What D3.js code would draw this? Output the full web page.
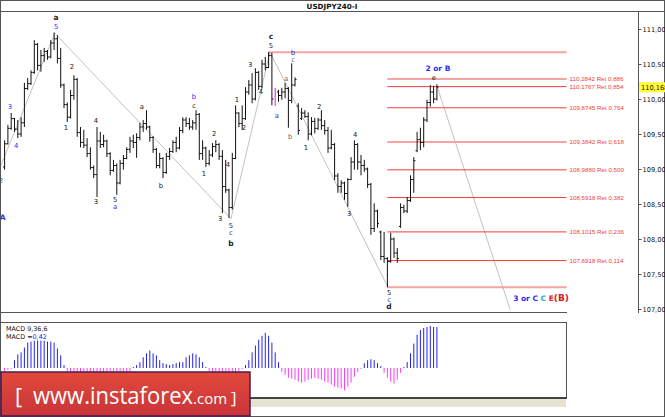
<!DOCTYPE html>
<html><head><meta charset="utf-8">
<script src="https://cdn.jsdelivr.net/npm/d3@7"></script>
<style>body{margin:0;background:#fff;}svg{display:block;}</style>
</head><body>
<svg id="c" width="665" height="417"></svg>
<script>
// ---------- DATA (USDJPY 4H, 14 Aug - 12 Sep) ----------
const opens  = [109.03,109.36,109.58,109.72,109.57,109.50,109.66,110.15,110.22,110.38,110.78,110.48,110.62,110.68,110.60,110.80,110.86,110.58,110.20,109.92,109.74,110.05,110.28,109.52,109.38,109.34,109.22,109.02,108.92,109.40,109.35,109.40,109.22,108.98,109.05,108.80,109.08,109.15,109.28,109.40,109.38,109.45,109.60,109.65,109.60,109.45,109.28,109.05,109.15,108.95,109.18,109.25,109.38,109.30,109.55,109.70,109.65,109.60,109.66,109.78,109.22,109.30,109.08,109.20,109.32,109.35,109.18,108.75,108.70,108.45,109.15,109.80,109.65,109.72,110.10,110.20,110.00,110.38,110.18,110.50,110.45,110.62,110.00,110.10,110.05,110.10,110.15,109.98,110.20,109.90,109.72,109.80,109.75,109.50,109.68,109.58,109.70,109.62,109.55,109.30,109.35,108.90,108.75,108.80,108.65,108.85,109.10,109.35,109.10,109.05,109.00,108.78,108.15,108.40,108.10,107.75,107.72,107.68,108.00,107.80,108.18,108.45,108.40,108.55,108.85,109.26,109.42,109.38,109.70,109.95,110.10,110.00];
const highs  = [109.41,109.63,109.80,109.73,109.70,109.74,110.23,110.30,110.41,110.84,110.80,110.70,110.73,110.70,110.84,110.95,110.91,110.73,110.22,109.95,110.13,110.34,110.30,109.60,109.56,109.44,109.31,109.05,109.60,109.53,109.49,109.42,109.24,109.13,109.08,109.13,109.20,109.31,109.46,109.49,109.51,109.66,109.70,109.84,109.62,109.47,109.30,109.23,109.17,109.23,109.30,109.41,109.46,109.60,109.74,109.74,109.73,109.70,109.84,109.80,109.41,109.32,109.27,109.37,109.41,109.37,109.27,109.13,108.72,109.23,109.91,109.81,109.91,110.17,110.27,110.37,110.44,110.40,110.56,110.60,110.67,110.66,110.16,110.13,110.16,110.23,110.17,110.51,110.31,109.94,109.87,109.84,109.81,109.74,109.73,109.73,109.84,109.70,109.60,109.56,109.37,108.94,108.84,108.82,108.87,109.17,109.41,109.37,109.20,109.13,109.02,108.80,108.51,108.42,108.12,108.10,107.74,108.09,108.02,107.87,108.51,108.49,108.60,108.91,109.17,109.53,109.59,109.74,109.99,110.20,110.19,110.21];
const lows   = [108.99,109.35,109.56,109.53,109.44,109.46,109.60,110.13,110.20,110.36,110.41,110.39,110.53,110.56,110.58,110.70,110.51,110.16,109.87,109.67,109.72,109.99,109.46,109.31,109.30,109.17,108.99,108.87,108.60,109.30,109.31,109.17,108.91,108.96,108.63,108.78,108.99,109.14,109.23,109.30,109.16,109.41,109.53,109.56,109.39,109.23,109.01,109.01,108.87,108.93,109.13,109.23,109.24,109.28,109.51,109.60,109.56,109.56,109.56,109.13,109.13,109.03,109.05,109.17,109.24,109.13,108.37,108.66,108.30,108.42,109.14,109.60,109.56,109.70,110.06,109.94,109.98,110.13,110.15,110.41,110.44,109.91,109.90,109.96,109.99,110.01,109.59,109.94,110.18,109.49,109.70,109.73,109.41,109.48,109.51,109.56,109.56,109.49,109.23,109.28,108.84,108.66,108.66,108.56,108.46,108.84,108.99,108.99,108.91,108.96,108.73,108.06,108.10,108.16,107.70,107.66,107.31,107.66,107.73,107.66,108.16,108.37,108.37,108.53,108.66,109.24,109.27,109.31,109.67,109.89,109.94,109.98];
const closes = [109.36,109.58,109.72,109.57,109.50,109.66,110.15,110.22,110.38,110.78,110.48,110.62,110.68,110.60,110.80,110.86,110.58,110.20,109.92,109.74,110.05,110.28,109.52,109.38,109.34,109.22,109.02,108.92,109.40,109.35,109.40,109.22,108.98,109.05,108.80,109.08,109.15,109.28,109.40,109.38,109.45,109.60,109.65,109.60,109.45,109.28,109.05,109.15,108.95,109.18,109.25,109.38,109.30,109.55,109.70,109.65,109.60,109.66,109.78,109.22,109.30,109.08,109.20,109.32,109.35,109.18,108.75,108.70,108.45,109.15,109.80,109.65,109.72,110.10,110.20,110.00,110.38,110.18,110.50,110.45,110.62,110.00,110.10,110.05,110.10,110.15,109.98,110.20,110.28,109.55,109.80,109.75,109.50,109.68,109.58,109.70,109.62,109.55,109.30,109.35,108.90,108.75,108.80,108.65,108.85,109.10,109.35,109.10,109.05,109.00,108.78,108.15,108.40,108.22,107.75,107.72,107.68,108.00,107.80,107.72,108.45,108.40,108.55,108.85,109.12,109.42,109.38,109.70,109.95,110.10,110.00,110.168];
const highlightBar = 82;   // magenta bar
const macdHist = [-0.03,-0.02,-0.01,0.08,0.14,0.16,0.21,0.26,0.27,0.28,0.28,0.28,0.28,0.27,0.27,0.26,0.20,0.13,0.03,
  -0.03,-0.05,-0.06,-0.08,-0.10,-0.12,-0.14,-0.16,-0.18,-0.17,-0.16,-0.15,-0.15,-0.16,-0.17,-0.18,-0.15,-0.12,-0.08,-0.04,
  0.01,0.03,0.06,0.11,0.15,0.18,0.15,0.13,0.08,0.05,0.04,0.03,0.04,0.05,0.06,0.06,0.11,0.13,0.15,0.14,0.11,0.06,0.01,
  -0.03,-0.04,-0.04,-0.05,-0.08,-0.09,-0.12,-0.10,-0.06,-0.03,-0.01,
  0.03,0.08,0.16,0.23,0.29,0.33,0.36,0.33,0.26,0.16,0.06,
  -0.04,-0.07,-0.10,-0.11,-0.12,-0.14,-0.15,-0.14,-0.12,-0.11,-0.10,-0.11,-0.12,-0.14,-0.15,-0.17,-0.19,-0.20,-0.21,-0.23,-0.19,-0.15,-0.09,-0.04,
  -0.01,0.05,0.08,0.09,0.08,0.05,0.02,
  -0.05,-0.10,-0.14,-0.16,-0.12,-0.05,
  0.01,0.06,0.15,0.25,0.34,0.39,0.41,0.42,0.43,0.42,0.42];
const dayLabels = ["авг","15В","16С","17Ч","18П","авг","22В","23С","24Ч","25П","авг","29В","30С","31Ч","1П","сен","5В","6С","7Ч","8П","сен","12В","13С","14Ч","15П","сен","19В","20С","21Ч"];
const barsPerDay = 6;
const priceTicks = [107,107.5,108,108.5,109,109.5,110,110.5,111];
const fibRatios = [0.886,0.854,0.764,0.618,0.500,0.382,0.236,0.114];
const fibValues = [110.2842,110.1767,109.8745,109.3842,108.9880,108.5918,108.1015,107.6918];
const fibLight  = [true,false,false,true,false,false,false,false];
const fibLow = 107.309, fibHigh = 110.667, fibLowBar = 116, fibHighBar = 80, fibEndBar = 170.3;
const lastPrice = 110.168;
const macdParams = "MACD 9,36,6", macdValue = "0,42";
// wave trend lines: [barIndex, price]
const waveLines = [
  [[-1.4,109.02],[15.2,110.94]],
  [[15.2,110.94],[68.6,108.29]],
  [[68.6,108.29],[80.4,110.67]],
  [[80.4,110.67],[116.2,107.31]],
  [[131.0,110.19],[153.2,106.99]]
];
// wave labels: bar index, price, text, colour key, bold
const waveLabels = [
  [15.6,111.16,"a","k",1],[15.6,111.04,"5","b",0],[1.6,109.89,"3","b",0],[3.5,109.33,"4","b",0],
  [-1.1,108.83,"2","b",0],[-0.6,108.31,"A","b",1],[20.4,110.46,"2","k",0],[18.6,109.59,"1","k",0],
  [27.7,109.69,"4","k",0],[27.7,108.53,"3","k",0],[33.5,108.57,"5","k",0],[33.5,108.47,"a","b",0],
  [41.6,109.90,"a","k",0],[47.4,108.77,"b","k",0],[57.4,110.03,"b","b",0],[57.4,109.91,"c","k",0],
  [63.5,109.51,"2","k",0],[60.4,108.94,"1","k",0],[67.7,109.06,"4","k",0],[65.3,108.29,"3","k",0],
  [68.6,108.19,"5","k",0],[68.6,108.09,"c","b",0],[68.6,107.94,"b","k",1],[70.4,109.99,"1","k",0],
  [72.5,109.60,"2","k",0],[74.4,110.49,"3","k",0],[77.7,110.11,"4","k",0],[80.7,110.89,"c","k",1],
  [80.7,110.77,"5","k",0],[87.4,110.67,"b","b",0],[87.4,110.56,"c","g",0],[85.3,110.29,"a","g",0],
  [82.5,109.77,"a","b",0],[86.5,109.47,"b","g",0],[95.3,109.90,"2","k",0],[91.3,109.31,"1","k",0],
  [106.2,109.49,"4","k",0],[104.4,108.37,"3","k",0],[116.5,107.23,"5","k",0],[116.5,107.13,"c","b",0],
  [116.5,107.03,"d","k",1],[130.1,110.31,"e","k",0]
];
const labelColours = {k:"#222", b:"#2d2df5", g:"#666"};

// ---------- DRAW ----------
const svg = d3.select("#c");
const FONT = "DejaVu Sans, Verdana, sans-serif";
const x = d3.scaleLinear().domain([0,1]).range([4.6,7.9]);
const y = d3.scaleLinear().domain([107,111]).range([309,29]);
const mY = d3.scaleLinear().domain([0,0.42]).range([368,327]);

svg.append("rect").attr("x",0.5).attr("y",0.5).attr("width",664).attr("height",416)
  .attr("fill","#fff").attr("stroke","#555");
// title
svg.append("line").attr("x1",0).attr("x2",665).attr("y1",11.5).attr("y2",11.5).attr("stroke","#555");
svg.append("text").attr("x",332).attr("y",9).attr("text-anchor","middle")
  .attr("font-family",FONT).attr("font-weight","bold").attr("font-size",7.2).attr("fill","#111").text("USDJPY240-I");

const defs = svg.append("defs");
defs.append("clipPath").attr("id","main").append("rect").attr("x",1).attr("y",12).attr("width",637).attr("height",300);
defs.append("clipPath").attr("id","xa").append("rect").attr("x",1).attr("y",312).attr("width",565).attr("height",10);
defs.append("clipPath").attr("id","mp").append("rect").attr("x",1).attr("y",323).attr("width",565).attr("height",74);

const main = svg.append("g").attr("clip-path","url(#main)");

// wave lines
main.selectAll("line.w").data(waveLines).join("line").attr("class","w")
  .attr("x1",d=>x(d[0][0])).attr("y1",d=>y(d[0][1])).attr("x2",d=>x(d[1][0])).attr("y2",d=>y(d[1][1]))
  .attr("stroke","#c4b8b8").attr("stroke-width",0.9);

// fib lines
main.append("line").attr("x1",x(fibHighBar)).attr("x2",x(fibEndBar)).attr("y1",y(fibHigh)).attr("y2",y(fibHigh))
  .attr("stroke","#f5a3a3").attr("stroke-width",2);
main.append("line").attr("x1",x(fibLowBar)).attr("x2",x(fibEndBar)).attr("y1",y(fibLow)).attr("y2",y(fibLow))
  .attr("stroke","#f5a3a3").attr("stroke-width",2);
fibValues.forEach((v,k)=>{
  main.append("line").attr("x1",x(fibLowBar)).attr("x2",x(fibEndBar)).attr("y1",y(v)).attr("y2",y(v))
    .attr("stroke",fibLight[k]?"#f5a3a3":"#f03c3c").attr("stroke-width",fibLight[k]?2:1);
  main.append("text").attr("x",x(fibEndBar)+3).attr("y",y(v)+2)
    .attr("font-family","Liberation Sans, Arial, sans-serif").attr("font-size",6.2).attr("fill","#f03c3c")
    .text(v.toFixed(4).replace(".",",")+" Ret "+fibRatios[k].toFixed(3).replace(".",","));
});

// OHLC bars
const idx = d3.range(opens.length);
const bars = main.append("g");
idx.forEach(i=>{
  const col = i===highlightBar ? "#ff00ff" : "#111";
  bars.append("line").attr("x1",x(i)).attr("x2",x(i)).attr("y1",y(highs[i])).attr("y2",y(lows[i])).attr("stroke",col);
  if(i!==highlightBar){
    bars.append("line").attr("x1",x(i)-1.6).attr("x2",x(i)).attr("y1",y(opens[i])).attr("y2",y(opens[i])).attr("stroke",col);
    bars.append("line").attr("x1",x(i)).attr("x2",x(i)+1.6).attr("y1",y(closes[i])).attr("y2",y(closes[i])).attr("stroke",col);
  }
});

// wave labels
main.selectAll("text.wl").data(waveLabels).join("text").attr("class","wl")
  .attr("x",d=>x(d[0])).attr("y",d=>y(d[1])+2.5).attr("text-anchor","middle")
  .attr("font-family",FONT).attr("font-size",d=>d[4]?7.5:6.8).attr("font-weight",d=>d[4]?"bold":"normal")
  .attr("fill",d=>labelColours[d[3]]).text(d=>d[2]);
main.append("text").attr("x",x(131.3)).attr("y",y(110.44)+3).attr("text-anchor","middle")
  .attr("font-family",FONT).attr("font-size",7.5).attr("font-weight","bold").attr("fill","#2d2df5").text("2 or B");
const t = main.append("text").attr("x",x(154.1)).attr("y",y(107.16)+3)
  .attr("font-family",FONT).attr("font-size",7.5).attr("font-weight","bold");
t.append("tspan").attr("fill","#2d2df5").text("3 or C ");
t.append("tspan").attr("fill","#2aa6f0").text("C ");
t.append("tspan").attr("fill","#e82020").text("E");
t.append("tspan").attr("fill","#d02020").attr("font-size",9).text("(B)");

// price axis
svg.append("line").attr("x1",638.5).attr("x2",638.5).attr("y1",11).attr("y2",313).attr("stroke","#555");
const ya = svg.append("g").attr("transform","translate(638.5,0)")
  .call(d3.axisRight(y).tickValues(priceTicks).tickSize(3).tickPadding(1)
    .tickFormat(v=>d3.format(".3f")(v).replace(".",",")));
ya.select(".domain").remove();
ya.selectAll("text").attr("font-family",FONT).attr("font-size",6.6).attr("fill","#111");
ya.selectAll("line").attr("stroke","#555");
svg.append("rect").attr("x",639).attr("y",y(lastPrice)-5).attr("width",26).attr("height",10).attr("fill","#ffff33");
svg.append("text").attr("x",641).attr("y",y(lastPrice)+2.3).attr("font-family",FONT).attr("font-size",6.6)
  .attr("fill","#111").text(d3.format(".3f")(lastPrice).replace(".",","));

// x axis
svg.append("line").attr("x1",0).attr("x2",567).attr("y1",312.5).attr("y2",312.5).attr("stroke","#555");
const dayTicks = dayLabels.map((d,k)=>k*barsPerDay-0.5);
const xa = svg.append("g").attr("clip-path","url(#xa)").attr("transform","translate(0,312.5)")
  .call(d3.axisBottom(x).tickValues(dayTicks).tickSize(2.5).tickFormat((d,k)=>dayLabels[k]));
xa.select(".domain").remove();
xa.selectAll("line").attr("stroke","#444");
xa.selectAll("text").attr("text-anchor","start").attr("dx",2).attr("y",1.5).attr("dy","0.71em")
  .attr("font-family",FONT).attr("font-size",5.6).attr("fill","#222");

// MACD panel
svg.append("line").attr("x1",0).attr("x2",567).attr("y1",322.5).attr("y2",322.5).attr("stroke","#555");
svg.append("line").attr("x1",566.5).attr("x2",566.5).attr("y1",322).attr("y2",398).attr("stroke","#555");
svg.append("line").attr("x1",0).attr("x2",567).attr("y1",398).attr("y2",398).attr("stroke","#444").attr("stroke-width",2);
svg.append("rect").attr("x",250).attr("y",399).attr("width",316).attr("height",8).attr("fill","#e7e3cf");
const mp = svg.append("g").attr("clip-path","url(#mp)");
mp.selectAll("line").data(macdHist).join("line")
  .attr("x1",(d,i)=>x(i)).attr("x2",(d,i)=>x(i)).attr("y1",mY(0)).attr("y2",d=>mY(d))
  .attr("stroke",d=>d>=0?"#2323f0":"#ff3cff");
svg.append("text").attr("x",6).attr("y",331).attr("font-family",FONT).attr("font-size",6.4).attr("fill","#111").text(macdParams);
const mv = svg.append("text").attr("x",6).attr("y",339).attr("font-family",FONT).attr("font-size",6.4).attr("fill","#111");
mv.append("tspan").text("MACD =");
mv.append("tspan").attr("fill","#2323f0").text(macdValue);

// banner
const g = defs.append("linearGradient").attr("id","bn").attr("x1",0).attr("y1",0).attr("x2",0).attr("y2",1);
g.append("stop").attr("offset","0").attr("stop-color","#e2493b");
g.append("stop").attr("offset","1").attr("stop-color","#c8343a");
svg.append("rect").attr("x",1).attr("y",372).attr("width",249).attr("height",44).attr("fill","url(#bn)")
  .attr("stroke","#4a1d4d").attr("stroke-width",1.5);
const bt = svg.append("text").attr("y",404).attr("font-family","Open Sans, sans-serif").attr("fill","#fff");
bt.append("tspan").attr("x",15).attr("font-size",22).text("[");
bt.append("tspan").attr("x",33).attr("font-size",23).attr("textLength",160).attr("lengthAdjust","spacingAndGlyphs").text("www.instaforex");
bt.append("tspan").attr("font-size",15).text(".com");
bt.append("tspan").attr("dx",4).attr("font-size",17).text("]");
</script>
</body></html>
